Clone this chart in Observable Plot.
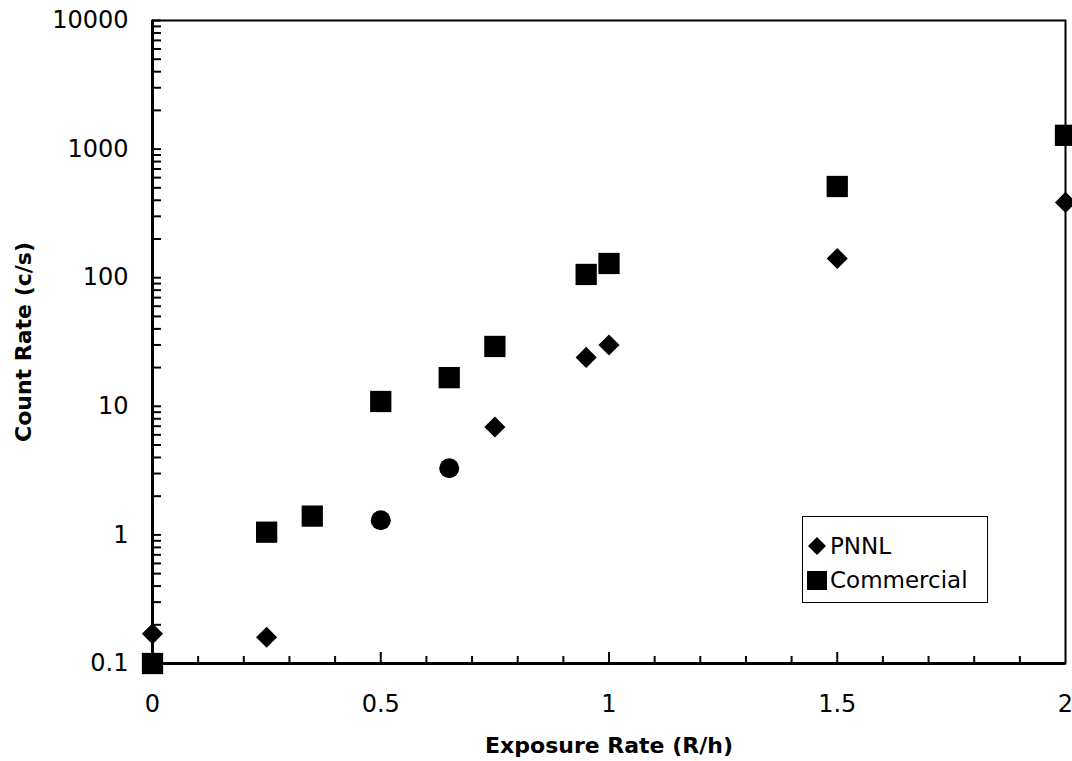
<!DOCTYPE html>
<html>
<head>
<meta charset="utf-8">
<script src="https://cdn.jsdelivr.net/npm/d3@7"></script>
<script src="https://cdn.jsdelivr.net/npm/@observablehq/plot@0.6"></script>
<style>
  body { margin: 0; background: #fff; }
  #chart { position: relative; width: 1072px; height: 761px; }
  .legend {
    position: absolute; left: 802px; top: 516px; width: 186px; height: 87px;
    box-sizing: border-box; border: 1.5px solid #000; background: #fff;
    font-family: "DejaVu Sans", sans-serif; font-size: 23px; color: #000;
    padding: 12px 0 0 4px;
  }
  .legend .row { display: flex; align-items: center; height: 34px; }
  .legend svg { display: block; margin-right: 3px; }
</style>
</head>
<body>
<div id="chart"></div>
<script>
// Exposure rate (R/h) and count rate (c/s) for each detector
const pnnlExposure = [0, 0.25, 0.75, 0.95, 1.0, 1.5, 2.0];
const pnnlCount = [0.17, 0.16, 6.9, 24, 30, 141, 385];

const commercialExposure = [0, 0.25, 0.35, 0.5, 0.65, 0.75, 0.95, 1.0, 1.5, 2.0];
const commercialCount = [0.1, 1.05, 1.4, 10.9, 16.7, 29.2, 106, 129, 512, 1280];

// extra measurements plotted with round markers
const otherExposure = [0.5, 0.65];
const otherCount = [1.3, 3.3];

// axis labels
const yTickLabels = [0.1, 1, 10, 100, 1000, 10000];
const xTickLabels = [0, 0.5, 1, 1.5, 2];
const xMinorTicks = [0.1, 0.2, 0.3, 0.4, 0.6, 0.7, 0.8, 0.9, 1.1, 1.2, 1.3, 1.4, 1.6, 1.7, 1.8, 1.9];
const xMajorTicks = [0.5, 1, 1.5];

const seriesNames = ["PNNL", "Commercial"];

const zip = (xs, ys) => xs.map((x, i) => ({x, y: ys[i]}));
const pnnl = zip(pnnlExposure, pnnlCount);
const commercial = zip(commercialExposure, commercialCount);
const other = zip(otherExposure, otherCount);

// log-scale minor ticks: 1..9 in every decade
const yTicks = d3.scaleLog().domain([0.1, 10000]).ticks();

const W = 1072, H = 761;
const margin = {top: 20, right: 7, bottom: 98, left: 152};
const innerW = W - margin.left - margin.right;
const innerH = H - margin.top - margin.bottom;

const chart = Plot.plot({
  width: W,
  height: H,
  marginTop: margin.top,
  marginRight: margin.right,
  marginBottom: margin.bottom,
  marginLeft: margin.left,
  style: {fontFamily: "DejaVu Sans, sans-serif", fontSize: "24px", color: "#000", background: "#fff", overflow: "visible"},
  x: {domain: [0, 2], axis: null},
  y: {type: "log", domain: [0.1, 10000], axis: null},
  marks: [
    Plot.frame({stroke: "#000", strokeWidth: 2}),
    // inward ticks
    Plot.tickY(yTicks, {y: d => d, insetRight: innerW - 9, stroke: "#000", strokeWidth: 2}),
    Plot.tickX(xMinorTicks, {x: d => d, insetTop: innerH - 7, stroke: "#000", strokeWidth: 2}),
    Plot.tickX(xMajorTicks, {x: d => d, insetTop: innerH - 11, stroke: "#000", strokeWidth: 2}),
    Plot.ruleX([0], {stroke: "#000", strokeWidth: 3}),
    Plot.ruleY([0.1], {stroke: "#000", strokeWidth: 3}),
    Plot.axisY(yTickLabels, {anchor: "left", tickSize: 0, tickPadding: 24, tickFormat: d => String(d), label: null, fontSize: 24}),
    Plot.axisX(xTickLabels, {anchor: "bottom", tickSize: 0, tickPadding: 31, tickFormat: d => String(d), label: null, fontSize: 24}),
    Plot.text(["Count Rate (c/s)"], {frameAnchor: "left", textAnchor: "middle", lineAnchor: "middle", dx: -129, rotate: -90, fontWeight: "bold", fontSize: 22}),
    Plot.text(["Exposure Rate (R/h)"], {frameAnchor: "bottom", lineAnchor: "middle", dy: 82, fontWeight: "bold", fontSize: 22}),
    Plot.dot(other, {x: "x", y: "y", symbol: "circle", r: 10, fill: "#000", stroke: null}),
    Plot.dot(commercial, {x: "x", y: "y", symbol: "square", r: 12, fill: "#000", stroke: null}),
    Plot.dot(pnnl, {x: "x", y: "y", symbol: "diamond2", r: 9.5, fill: "#000", stroke: null})
  ]
});

const root = document.getElementById("chart");
root.appendChild(chart);

// legend box inside the plot area
const legend = document.createElement("div");
legend.className = "legend";
const shapes = {
  PNNL: '<svg width="20" height="20"><path d="M10,1L19,10L10,19L1,10Z" fill="#000"/></svg>',
  Commercial: '<svg width="20" height="20"><rect x="0" y="1" width="20" height="19" fill="#000"/></svg>'
};
for (const name of seriesNames) {
  const row = document.createElement("div");
  row.className = "row";
  row.innerHTML = shapes[name] + "<span>" + name + "</span>";
  legend.appendChild(row);
}
root.appendChild(legend);
</script>
</body>
</html>
